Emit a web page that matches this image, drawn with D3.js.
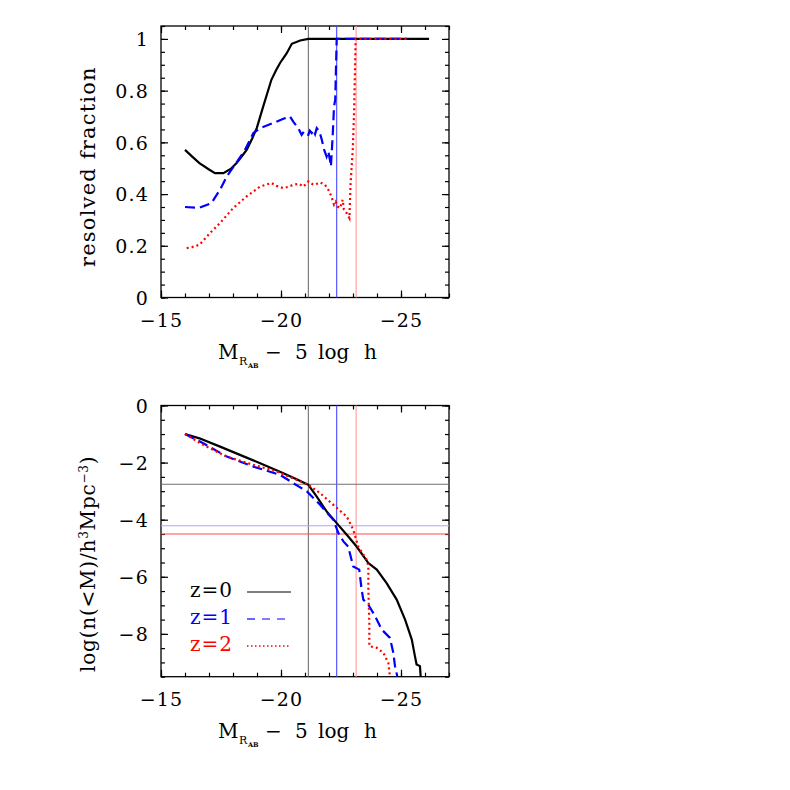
<!DOCTYPE html>
<html>
<head>
<meta charset="utf-8">
<script src="https://cdn.jsdelivr.net/npm/d3@7"></script>
<style>
  body { margin: 0; background: #fff; }
  text { font-family: "DejaVu Serif", serif; }
</style>
</head>
<body>
<svg id="chart" width="790" height="790"></svg>
<script>
// resolved fraction vs magnitude (top panel)
const fracZ0 = [[-16.0,0.571],[-16.3,0.545],[-16.6,0.52],[-17.0,0.495],[-17.25,0.481],[-17.6,0.481],[-17.9,0.497],[-18.15,0.52],[-18.4,0.55],[-18.57,0.571],[-18.8,0.615],[-18.99,0.655],[-19.26,0.739],[-19.6,0.842],[-19.8,0.88],[-19.96,0.907],[-20.24,0.945],[-20.45,0.981],[-20.8,0.994],[-21.14,1.0],[-26.17,1.0]];
const fracZ1 = [[-16.0,0.35],[-16.6,0.347],[-17.1,0.365],[-17.46,0.417],[-17.74,0.468],[-18.08,0.513],[-18.5,0.571],[-18.85,0.636],[-19.125,0.655],[-19.68,0.675],[-20.1,0.691],[-20.375,0.70],[-20.51,0.68],[-20.72,0.655],[-20.86,0.629],[-20.96,0.642],[-21.05,0.632],[-21.14,0.629],[-21.2,0.645],[-21.28,0.636],[-21.35,0.648],[-21.42,0.632],[-21.49,0.655],[-21.6,0.642],[-21.7,0.61],[-21.8,0.571],[-21.9,0.545],[-21.97,0.565],[-22.04,0.532],[-22.08,0.507],[-22.15,0.62],[-22.21,0.739],[-22.26,0.765],[-22.32,1.0],[-25.24,1.0]];
const fracZ2 = [[-16.07,0.191],[-16.3,0.195],[-16.6,0.204],[-17.04,0.249],[-17.46,0.288],[-18.01,0.346],[-18.57,0.391],[-19.125,0.429],[-19.6,0.443],[-19.8,0.432],[-20.1,0.423],[-20.3,0.428],[-20.51,0.436],[-20.75,0.44],[-20.93,0.429],[-21.14,0.449],[-21.35,0.436],[-21.5,0.44],[-21.63,0.445],[-21.83,0.436],[-21.97,0.417],[-22.1,0.391],[-22.21,0.359],[-22.28,0.37],[-22.35,0.352],[-22.46,0.346],[-22.57,0.378],[-22.62,0.34],[-22.67,0.333],[-22.75,0.325],[-22.85,0.307],[-22.9,0.442],[-22.99,0.571],[-23.04,0.70],[-23.08,0.868],[-23.11,1.0],[-25.24,1.0]];

// cumulative number density (bottom panel)
const cumZ0 = [[-16.0,-1.0],[-16.6,-1.15],[-17.46,-1.44],[-18.29,-1.73],[-19.13,-2.02],[-20.1,-2.37],[-20.65,-2.58],[-21.14,-2.78],[-21.49,-3.19],[-21.9,-3.71],[-22.32,-4.12],[-22.74,-4.53],[-23.15,-4.94],[-23.64,-5.52],[-23.99,-5.75],[-24.4,-6.22],[-24.82,-6.8],[-25.17,-7.5],[-25.45,-8.2],[-25.58,-8.78],[-25.65,-9.07],[-25.79,-9.13],[-25.82,-9.5]];
const cumZ1 = [[-16.0,-1.0],[-16.76,-1.32],[-17.74,-1.79],[-18.85,-2.14],[-19.96,-2.43],[-20.51,-2.72],[-21.08,-3.01],[-21.63,-3.48],[-22.18,-4.0],[-22.39,-4.47],[-22.6,-4.76],[-22.8,-4.94],[-23.01,-5.64],[-23.26,-5.75],[-23.36,-6.45],[-23.43,-6.8],[-23.64,-6.98],[-23.92,-7.38],[-24.2,-7.85],[-24.54,-8.14],[-24.68,-8.66],[-24.75,-9.13],[-24.85,-9.5]];
const cumZ2 = [[-16.0,-1.0],[-16.76,-1.38],[-17.74,-1.79],[-18.85,-2.08],[-19.82,-2.31],[-20.65,-2.6],[-21.14,-2.78],[-21.63,-3.07],[-22.18,-3.48],[-22.74,-3.89],[-23.01,-4.35],[-23.22,-4.94],[-23.57,-5.4],[-23.64,-5.64],[-23.64,-6.45],[-23.68,-7.6],[-23.68,-8.43],[-23.99,-8.49],[-24.26,-8.66],[-24.47,-9.01],[-24.54,-9.5]];

// completeness limits for z=0,1,2
const limitMag = [-21.14, -22.32, -23.13];
const limitDens = [-2.76, -4.21, -4.50];

const seriesNames = ["z=0", "z=1", "z=2"];
const xMajor = [-15, -20, -25];
const fracMajor = [0, 0.2, 0.4, 0.6, 0.8, 1];
const densMajor = [0, -2, -4, -6, -8];

const lineColors = ["#000000", "#0000ff", "#ff0000"];
const dashes = [null, "10,5", "2,3"];
const vColors = ["#707070", "#4848ff", "#ff9c9c"];
const hColors = ["#707070", "#a8a8ff", "#ff4848"];

const svg = d3.select("#chart");
const left = 161, right = 449;
const x = d3.scaleLinear().domain([-15, -27]).range([left, right]);
const minus = v => v < 0 ? "\u2212" + Math.abs(v) : String(v);

function drawPanel(y, top, bottom, yMajor, yMinor, yFmt, id) {
    const g = svg.append("g");
    g.append("clipPath").attr("id", id).append("rect")
        .attr("x", left).attr("y", top).attr("width", right - left).attr("height", bottom - top);

    // axes, ticks pointing inward
    const xMinor = d3.range(-15, -27.5, -1);
    const addAxis = (axis, tx, ty) => {
        const a = g.append("g").attr("transform", `translate(${tx},${ty})`).call(axis);
        a.select(".domain").remove();
        a.selectAll("line").attr("stroke", "#000").attr("stroke-width", 1.2);
        return a;
    };
    addAxis(d3.axisBottom(x).tickValues(xMinor).tickSize(-4).tickFormat(""), 0, bottom);
    addAxis(d3.axisTop(x).tickValues(xMinor).tickSize(-4).tickFormat(""), 0, top);
    addAxis(d3.axisTop(x).tickValues(xMajor).tickSize(-7).tickFormat(""), 0, top);
    const xb = addAxis(d3.axisBottom(x).tickValues(xMajor).tickSize(-7).tickFormat(minus), 0, bottom);
    xb.selectAll("text").attr("y", 29).attr("dy", 0)
        .attr("font-size", 19).attr("letter-spacing", 1.2).attr("fill", "#000");

    addAxis(d3.axisLeft(y).tickValues(yMinor).tickSize(-4).tickFormat(""), left, 0);
    addAxis(d3.axisRight(y).tickValues(yMinor).tickSize(-4).tickFormat(""), right, 0);
    addAxis(d3.axisRight(y).tickValues(yMajor).tickSize(-7).tickFormat(""), right, 0);
    const yl = addAxis(d3.axisLeft(y).tickValues(yMajor).tickSize(-7).tickFormat(yFmt), left, 0);
    yl.selectAll("text").attr("x", -12).attr("dy", "0.36em")
        .attr("font-size", 19).attr("letter-spacing", 1.2).attr("fill", "#000");

    g.append("rect")
        .attr("x", left).attr("y", top).attr("width", right - left).attr("height", bottom - top)
        .attr("fill", "none").attr("stroke", "#000").attr("stroke-width", 1.3);

    // x axis title
    const lbl = g.append("text").attr("font-size", 20).attr("fill", "#000");
    lbl.append("tspan").attr("x", 218).attr("y", bottom + 61).text("M");
    lbl.append("tspan").attr("x", 239).attr("y", bottom + 67).attr("font-size", 11).text("R");
    lbl.append("tspan").attr("x", 248).attr("y", bottom + 70).attr("font-size", 6.5).attr("font-weight", "bold").text("AB");
    lbl.append("tspan").attr("x", 265).attr("y", bottom + 61).text("\u2212");
    lbl.append("tspan").attr("x", 295).attr("y", bottom + 61).text("5");
    lbl.append("tspan").attr("x", 318).attr("y", bottom + 61).text("log");
    lbl.append("tspan").attr("x", 364).attr("y", bottom + 61).text("h");

    return g;
}

function drawLines(g, y, datasets, clipId) {
    const line = d3.line().x(d => x(d[0])).y(d => y(d[1]));
    const plot = g.append("g").attr("clip-path", `url(#${clipId})`);
    plot.selectAll("path.series")
        .data(datasets)
        .enter().append("path")
        .attr("class", "series")
        .attr("d", d => line(d))
        .attr("fill", "none")
        .attr("stroke", (d, i) => lineColors[i])
        .attr("stroke-width", 2.2)
        .attr("stroke-dasharray", (d, i) => dashes[i]);
}

// Top panel
const yTop = d3.scaleLinear().domain([0, 1.05]).range([297.5, 26]);
const gTop = drawPanel(yTop, 26, 297.5, fracMajor, d3.range(0, 1.051, 0.05),
    d => (d === 0 || d === 1) ? String(d) : d.toFixed(1), "clipTop");

gTop.selectAll("line.vlim")
    .data(limitMag)
    .enter().append("line")
    .attr("class", "vlim")
    .attr("x1", d => x(d)).attr("x2", d => x(d))
    .attr("y1", 26).attr("y2", 297.5)
    .attr("stroke", (d, i) => vColors[i]).attr("stroke-width", 1.1);

drawLines(gTop, yTop, [fracZ0, fracZ1, fracZ2], "clipTop");

svg.append("text")
    .attr("transform", "translate(95,267) rotate(-90)")
    .attr("font-size", 21).attr("letter-spacing", 1.2).attr("fill", "#000")
    .text("resolved fraction");

// Bottom panel
const yBot = d3.scaleLinear().domain([-9.5, 0]).range([676.7, 405.5]);
const gBot = drawPanel(yBot, 405.5, 676.7, densMajor, d3.range(0, -9.51, -0.5), minus, "clipBot");

gBot.selectAll("line.vlim")
    .data(limitMag)
    .enter().append("line")
    .attr("class", "vlim")
    .attr("x1", d => x(d)).attr("x2", d => x(d))
    .attr("y1", 405.5).attr("y2", 676.7)
    .attr("stroke", (d, i) => vColors[i]).attr("stroke-width", 1.1);

gBot.selectAll("line.hlim")
    .data(limitDens)
    .enter().append("line")
    .attr("class", "hlim")
    .attr("x1", left).attr("x2", right)
    .attr("y1", d => yBot(d)).attr("y2", d => yBot(d))
    .attr("stroke", (d, i) => hColors[i]).attr("stroke-width", 1.1);

drawLines(gBot, yBot, [cumZ0, cumZ1, cumZ2], "clipBot");

const ylab = svg.append("text")
    .attr("transform", "translate(95,672) rotate(-90)")
    .attr("font-size", 20).attr("letter-spacing", 0.8).attr("fill", "#000");
ylab.append("tspan").text("log(n(<M)/h");
ylab.append("tspan").attr("font-size", 12).attr("dy", -7).text("3");
ylab.append("tspan").attr("dy", 7).text("Mpc");
ylab.append("tspan").attr("font-size", 12).attr("dy", -7).text("\u22123");
ylab.append("tspan").attr("dy", 7).text(")");

// legend
const legend = gBot.selectAll("g.legend")
    .data(seriesNames)
    .enter().append("g")
    .attr("class", "legend")
    .attr("transform", (d, i) => `translate(0,${597 + i * 27})`);
legend.append("text")
    .attr("x", 190).attr("y", 0)
    .attr("font-size", 20).attr("letter-spacing", 1)
    .attr("fill", (d, i) => lineColors[i])
    .text(d => d);
legend.append("line")
    .attr("x1", 247).attr("x2", 291).attr("y1", -5).attr("y2", -5)
    .attr("stroke", (d, i) => lineColors[i])
    .attr("stroke-width", (d, i) => i === 2 ? 1.5 : 1.2)
    .attr("stroke-dasharray", (d, i) => i === 1 ? "8,7" : (i === 2 ? "1.5,2.5" : null));
</script>
</body>
</html>
